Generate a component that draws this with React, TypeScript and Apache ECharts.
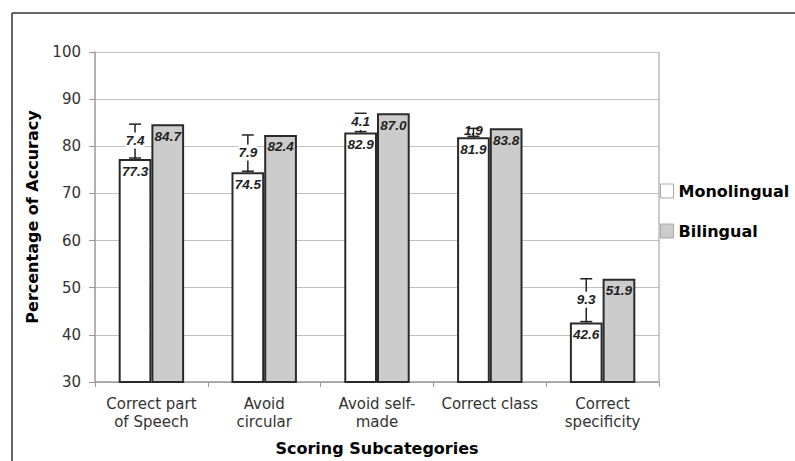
import React, { useEffect, useRef } from "react";
import * as echarts from "echarts";

const categories = [
  "Correct part\nof Speech",
  "Avoid\ncircular",
  "Avoid self-\nmade",
  "Correct class",
  "Correct\nspecificity",
];
const monolingual = [77.3, 74.5, 82.9, 81.9, 42.6];
const bilingual = [84.7, 82.4, 87.0, 83.8, 51.9];
const monoError = [7.4, 7.9, 4.1, 1.9, 9.3];
const yTicks = { min: 30, max: 100, interval: 10 };

const CAT_GAP = 0.42;

export default function App() {
  const ref = useRef<HTMLDivElement>(null);
  useEffect(() => {
    if (!ref.current) return;
    const chart = echarts.init(ref.current, null, { renderer: "svg" });
    const font = "DejaVu Sans";
    const labelFont = "Liberation Sans";
    chart.setOption({
      animation: false,
      backgroundColor: "#ffffff",
      grid: { left: 95, right: 136, top: 52, bottom: 78 },
      legend: {
        orient: "vertical",
        left: 660,
        top: 183,
        padding: 0,
        itemWidth: 13,
        itemHeight: 14,
        itemGap: 24,
        icon: "rect",
        textStyle: { fontFamily: font, fontWeight: "bold", fontSize: 16, color: "#000" },
        data: [
          { name: "Monolingual", itemStyle: { color: "#fff", borderColor: "#aaa", borderWidth: 1 } },
          { name: "Bilingual", itemStyle: { color: "#cccccc", borderColor: "#aaa", borderWidth: 1 } },
        ],
      },
      xAxis: {
        type: "category",
        data: categories,
        name: "Scoring Subcategories",
        nameLocation: "middle",
        nameGap: 58,
        nameTextStyle: { fontFamily: font, fontWeight: "bold", fontSize: 16, color: "#000" },
        axisLine: { lineStyle: { color: "#999", width: 1.5 } },
        axisTick: { show: true, length: 5, lineStyle: { color: "#999" } },
        axisLabel: { interval: 0, fontFamily: font, fontSize: 15, color: "#333", lineHeight: 18, margin: 13 },
      },
      yAxis: {
        type: "value",
        min: yTicks.min,
        max: yTicks.max,
        interval: yTicks.interval,
        name: "Percentage of Accuracy",
        nameLocation: "middle",
        nameGap: 55,
        nameTextStyle: { fontFamily: font, fontWeight: "bold", fontSize: 16, color: "#000" },
        axisLine: { show: true, lineStyle: { color: "#999", width: 1.5 } },
        axisTick: { show: true, length: 6, inside: false, lineStyle: { color: "#999" } },
        axisLabel: { fontFamily: font, fontSize: 15, color: "#333", margin: 14 },
        splitLine: { lineStyle: { color: "#c0c0c0", width: 1.2 } },
      },
      graphic: [
        { type: "line", shape: { x1: 12, y1: 13, x2: 795, y2: 13 }, style: { stroke: "#333", lineWidth: 1.5 }, z: 10 },
        { type: "line", shape: { x1: 12, y1: 13, x2: 12, y2: 461 }, style: { stroke: "#333", lineWidth: 1.5 }, z: 10 },
        { type: "line", shape: { x1: 659, y1: 52, x2: 659, y2: 383 }, style: { stroke: "#aaa", lineWidth: 1.2 }, z: 10 },
      ],
      series: [
        {
          name: "Monolingual",
          type: "bar",
          data: monolingual,
          barGap: "0%",
          barCategoryGap: CAT_GAP * 100 + "%",
          itemStyle: { color: "#ffffff", borderColor: "#2a2a2a", borderWidth: 2 },
          label: {
            show: true,
            position: "insideTop",
            distance: 5,
            formatter: (p: any) => p.value.toFixed(1),
            fontFamily: labelFont,
            fontWeight: "bold",
            fontStyle: "italic",
            fontSize: 13.5,
            color: "#222",
          },
        },
        {
          name: "Bilingual",
          type: "bar",
          data: bilingual,
          itemStyle: { color: "#cccccc", borderColor: "#2a2a2a", borderWidth: 2 },
          label: {
            show: true,
            position: "insideTop",
            distance: 5,
            formatter: (p: any) => p.value.toFixed(1),
            fontFamily: labelFont,
            fontWeight: "bold",
            fontStyle: "italic",
            fontSize: 13.5,
            color: "#222",
          },
        },
        {
          name: "err",
          type: "custom",
          z: 5,
          data: monolingual.map((v, i) => [i, v, monoError[i]]),
          encode: { x: 0, y: 1 },
          renderItem: (params: any, api: any) => {
            const idx = api.value(0);
            const val = api.value(1);
            const err = api.value(2);
            const bandW = api.size([1, 0])[0];
            const barW = (bandW * (1 - CAT_GAP)) / 2;
            const base = api.coord([idx, val]);
            const topP = api.coord([idx, val + err]);
            const cx = base[0] - barW / 2;
            const y0 = base[1];
            const y1 = topP[1];
            const cap = 6;
            return {
              type: "group",
              children: [
                { type: "line", shape: { x1: cx, y1: y0, x2: cx, y2: y1 }, style: { stroke: "#222", lineWidth: 1.5 } },
                { type: "line", shape: { x1: cx - cap, y1: y1, x2: cx + cap, y2: y1 }, style: { stroke: "#222", lineWidth: 1.5 } },
                { type: "line", shape: { x1: cx - cap, y1: y0 - 1, x2: cx + cap, y2: y0 - 1 }, style: { stroke: "#222", lineWidth: 1.5 } },
                {
                  type: "text",
                  x: cx,
                  y: (y0 + y1) / 2 - (err < 3 ? 2 : 1),
                  style: {
                    text: err.toFixed(1),
                    align: "center",
                    verticalAlign: "middle",
                    fontFamily: labelFont,
                    fontWeight: "bold",
                    fontStyle: "italic",
                    fontSize: 13.5,
                    fill: "#222",
                    backgroundColor: err < 3 ? "transparent" : "#fff",
                    padding: [1, 0, 1, 0],
                  },
                },
              ],
            };
          },
        },
      ],
    });
    return () => chart.dispose();
  }, []);
  return <div ref={ref} style={{ width: 795, height: 461, position: "absolute", left: 0, top: 0 }} />;
}
